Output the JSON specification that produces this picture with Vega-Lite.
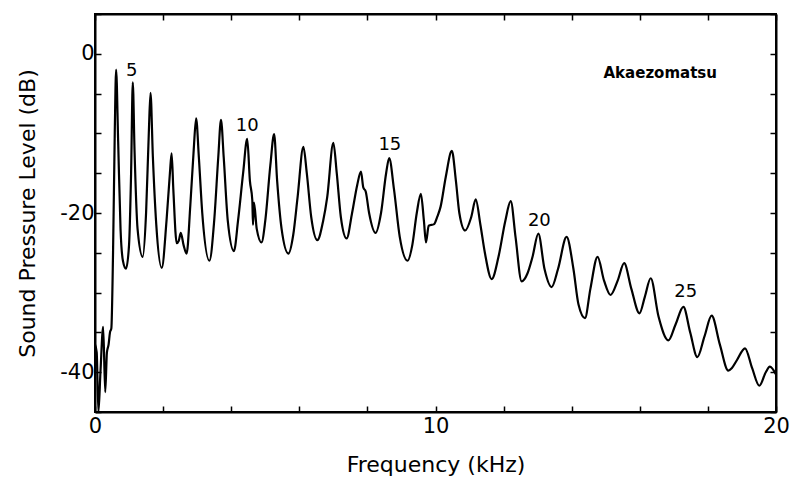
{
  "$schema": "https://vega.github.io/schema/vega-lite/v6.json",
  "width": 681,
  "height": 398,
  "autosize": "none",
  "padding": {"left": 95, "top": 14, "right": 14, "bottom": 81},
  "background": "white",
  "config": {"view": {"stroke": "black", "strokeWidth": 2}},
  "datasets": {
    "spectrum": [
      {"f": 0.0, "db": -36.5}, {"f": 0.05, "db": -37.5}, {"f": 0.1, "db": -45}, {"f": 0.16, "db": -40},
      {"f": 0.24, "db": -34.3}, {"f": 0.3, "db": -42.5}, {"f": 0.35, "db": -37.5}, {"f": 0.4, "db": -36.5},
      {"f": 0.44, "db": -35}, {"f": 0.48, "db": -34.5}, {"f": 0.53, "db": -25}, {"f": 0.58, "db": -10},
      {"f": 0.62, "db": -2.0}, {"f": 0.68, "db": -11}, {"f": 0.75, "db": -22}, {"f": 0.82, "db": -26},
      {"f": 0.91, "db": -27.0}, {"f": 1.0, "db": -24}, {"f": 1.06, "db": -15}, {"f": 1.11, "db": -3.6},
      {"f": 1.16, "db": -12}, {"f": 1.25, "db": -22}, {"f": 1.4, "db": -25.5}, {"f": 1.5, "db": -20},
      {"f": 1.58, "db": -10}, {"f": 1.63, "db": -4.9}, {"f": 1.7, "db": -13}, {"f": 1.8, "db": -21.5},
      {"f": 1.96, "db": -26.9}, {"f": 2.1, "db": -21}, {"f": 2.2, "db": -15}, {"f": 2.25, "db": -12.5},
      {"f": 2.3, "db": -17}, {"f": 2.4, "db": -23.8}, {"f": 2.46, "db": -23.5}, {"f": 2.52, "db": -22.5},
      {"f": 2.6, "db": -24}, {"f": 2.69, "db": -25.1}, {"f": 2.8, "db": -19}, {"f": 2.9, "db": -12},
      {"f": 2.97, "db": -8.1}, {"f": 3.05, "db": -13}, {"f": 3.15, "db": -20}, {"f": 3.36, "db": -26.0},
      {"f": 3.5, "db": -21}, {"f": 3.62, "db": -13}, {"f": 3.7, "db": -8.3}, {"f": 3.78, "db": -13},
      {"f": 3.9, "db": -21}, {"f": 4.08, "db": -24.8}, {"f": 4.2, "db": -21}, {"f": 4.35, "db": -15},
      {"f": 4.47, "db": -10.7}, {"f": 4.55, "db": -16}, {"f": 4.62, "db": -18.4}, {"f": 4.64, "db": -21.5},
      {"f": 4.67, "db": -18.7}, {"f": 4.75, "db": -22}, {"f": 4.89, "db": -23.7}, {"f": 5.0, "db": -21},
      {"f": 5.15, "db": -14}, {"f": 5.26, "db": -10.1}, {"f": 5.35, "db": -16}, {"f": 5.48, "db": -22},
      {"f": 5.68, "db": -25.1}, {"f": 5.82, "db": -22.8}, {"f": 5.95, "db": -18}, {"f": 6.12, "db": -11.7},
      {"f": 6.22, "db": -15}, {"f": 6.35, "db": -20.5}, {"f": 6.53, "db": -23.4}, {"f": 6.7, "db": -21},
      {"f": 6.82, "db": -18}, {"f": 7.0, "db": -11.2}, {"f": 7.1, "db": -15}, {"f": 7.22, "db": -20.5},
      {"f": 7.39, "db": -23.2}, {"f": 7.55, "db": -20}, {"f": 7.7, "db": -16.5}, {"f": 7.81, "db": -14.8},
      {"f": 7.88, "db": -16.8}, {"f": 7.95, "db": -17.3}, {"f": 8.05, "db": -20}, {"f": 8.24, "db": -22.5}, {"f": 8.4, "db": -20},
      {"f": 8.55, "db": -15}, {"f": 8.64, "db": -13.1}, {"f": 8.78, "db": -17}, {"f": 8.95, "db": -23},
      {"f": 9.18, "db": -26.0}, {"f": 9.32, "db": -24}, {"f": 9.45, "db": -20}, {"f": 9.57, "db": -17.6},
      {"f": 9.66, "db": -21}, {"f": 9.72, "db": -23.7}, {"f": 9.8, "db": -21.6}, {"f": 9.96, "db": -21.4},
      {"f": 10.05, "db": -20.5}, {"f": 10.15, "db": -19.2}, {"f": 10.3, "db": -15.5}, {"f": 10.48, "db": -12.2},
      {"f": 10.6, "db": -16}, {"f": 10.7, "db": -20}, {"f": 10.87, "db": -22.2}, {"f": 11.05, "db": -20.5},
      {"f": 11.18, "db": -18.3}, {"f": 11.32, "db": -21.5}, {"f": 11.45, "db": -25}, {"f": 11.65, "db": -28.3},
      {"f": 11.85, "db": -25.5}, {"f": 12.05, "db": -21}, {"f": 12.21, "db": -18.5}, {"f": 12.35, "db": -23},
      {"f": 12.53, "db": -28.6}, {"f": 12.7, "db": -27.6}, {"f": 12.85, "db": -25.5}, {"f": 13.02, "db": -22.6},
      {"f": 13.2, "db": -27}, {"f": 13.41, "db": -29.3}, {"f": 13.6, "db": -27}, {"f": 13.85, "db": -23.0},
      {"f": 14.05, "db": -27}, {"f": 14.2, "db": -31.5}, {"f": 14.39, "db": -33.2}, {"f": 14.55, "db": -29.5},
      {"f": 14.76, "db": -25.5}, {"f": 14.95, "db": -28.5}, {"f": 15.14, "db": -30.3}, {"f": 15.35, "db": -28.5},
      {"f": 15.54, "db": -26.3}, {"f": 15.75, "db": -29.5}, {"f": 15.99, "db": -32.6}, {"f": 16.15, "db": -30.5},
      {"f": 16.32, "db": -28.2}, {"f": 16.55, "db": -33}, {"f": 16.84, "db": -36.0}, {"f": 17.05, "db": -34},
      {"f": 17.28, "db": -31.8}, {"f": 17.48, "db": -35}, {"f": 17.69, "db": -38.1}, {"f": 17.9, "db": -35.5},
      {"f": 18.11, "db": -32.9}, {"f": 18.35, "db": -36.5}, {"f": 18.6, "db": -39.8}, {"f": 18.7, "db": -39.5},
      {"f": 18.85, "db": -38.5}, {"f": 19.09, "db": -37.0}, {"f": 19.3, "db": -39.5}, {"f": 19.51, "db": -41.7},
      {"f": 19.7, "db": -40}, {"f": 19.82, "db": -39.3}, {"f": 20.0, "db": -40.3}
    ],
    "labels": [
      {"f": 1.08, "db": -2.1, "text": "5"},
      {"f": 4.47, "db": -9.1, "text": "10"},
      {"f": 8.66, "db": -11.5, "text": "15"},
      {"f": 13.05, "db": -21.0, "text": "20"},
      {"f": 17.35, "db": -29.9, "text": "25"}
    ],
    "name": [
      {"f": 16.6, "db": -2.4, "text": "Akaezomatsu"}
    ]
  },
  "layer": [
    {
      "data": {"name": "spectrum"},
      "mark": {"type": "line", "color": "black", "strokeWidth": 2.2, "interpolate": "monotone"},
      "encoding": {
        "x": {
          "field": "f", "type": "quantitative",
          "scale": {"domain": [0, 20], "nice": false, "zero": false},
          "axis": {
            "orient": "bottom",
            "values": [0, 2, 4, 6, 8, 10, 12, 14, 16, 18, 20],
            "labelExpr": "datum.value % 10 == 0 ? datum.label : ''",
            "labelOverlap": false, "labelFlush": false,
            "tickSize": -6, "tickColor": "black", "tickWidth": 1.5,
            "domainColor": "black", "domainWidth": 2, "grid": false,
            "labelFont": "DejaVu Sans", "labelFontSize": 21, "labelColor": "black", "labelPadding": 9,
            "title": "Frequency (kHz)", "titleFont": "DejaVu Sans", "titleFontSize": 22,
            "titleFontWeight": "normal", "titleColor": "black", "titlePadding": 18
          }
        },
        "y": {
          "field": "db", "type": "quantitative",
          "scale": {"domain": [-45, 5], "nice": false, "zero": false},
          "axis": {
            "orient": "left",
            "values": [-45, -40, -35, -30, -25, -20, -15, -10, -5, 0, 5],
            "labelExpr": "datum.value == 0 ? '0' : (datum.value == -20 ? '-20' : (datum.value == -40 ? '-40' : ''))",
            "labelOverlap": false, "labelFlush": false,
            "tickSize": -6, "tickColor": "black", "tickWidth": 1.5,
            "domainColor": "black", "domainWidth": 2, "grid": false,
            "labelFont": "DejaVu Sans", "labelFontSize": 21, "labelColor": "black", "labelPadding": 7,
            "title": "Sound Pressure Level (dB)", "titleFont": "DejaVu Sans", "titleFontSize": 22,
            "titleFontWeight": "normal", "titleColor": "black", "titlePadding": 20
          }
        }
      }
    },
    {
      "data": {"name": "spectrum"},
      "mark": {"type": "line", "opacity": 0},
      "encoding": {
        "x": {
          "field": "f", "type": "quantitative",
          "axis": {
            "orient": "top", "values": [0, 2, 4, 6, 8, 10, 12, 14, 16, 18, 20],
            "labels": false, "title": null, "tickSize": -6, "tickColor": "black", "tickWidth": 1.5,
            "domainColor": "black", "domainWidth": 2, "grid": false
          }
        },
        "y": {
          "field": "db", "type": "quantitative",
          "axis": {
            "orient": "right", "values": [-45, -40, -35, -30, -25, -20, -15, -10, -5, 0, 5],
            "labels": false, "title": null, "tickSize": -6, "tickColor": "black", "tickWidth": 1.5,
            "domainColor": "black", "domainWidth": 2, "grid": false
          }
        }
      }
    },
    {
      "data": {"name": "labels"},
      "mark": {"type": "text", "font": "DejaVu Sans", "fontSize": 18, "color": "black", "align": "center", "baseline": "middle"},
      "encoding": {
        "x": {"field": "f", "type": "quantitative", "axis": null},
        "y": {"field": "db", "type": "quantitative", "axis": null},
        "text": {"field": "text"}
      }
    },
    {
      "data": {"name": "name"},
      "mark": {"type": "text", "font": "DejaVu Sans", "fontSize": 15, "fontWeight": "bold", "color": "black", "align": "center", "baseline": "middle"},
      "encoding": {
        "x": {"field": "f", "type": "quantitative", "axis": null},
        "y": {"field": "db", "type": "quantitative", "axis": null},
        "text": {"field": "text"}
      }
    }
  ],
  "resolve": {"axis": {"x": "independent", "y": "independent"}}
}
